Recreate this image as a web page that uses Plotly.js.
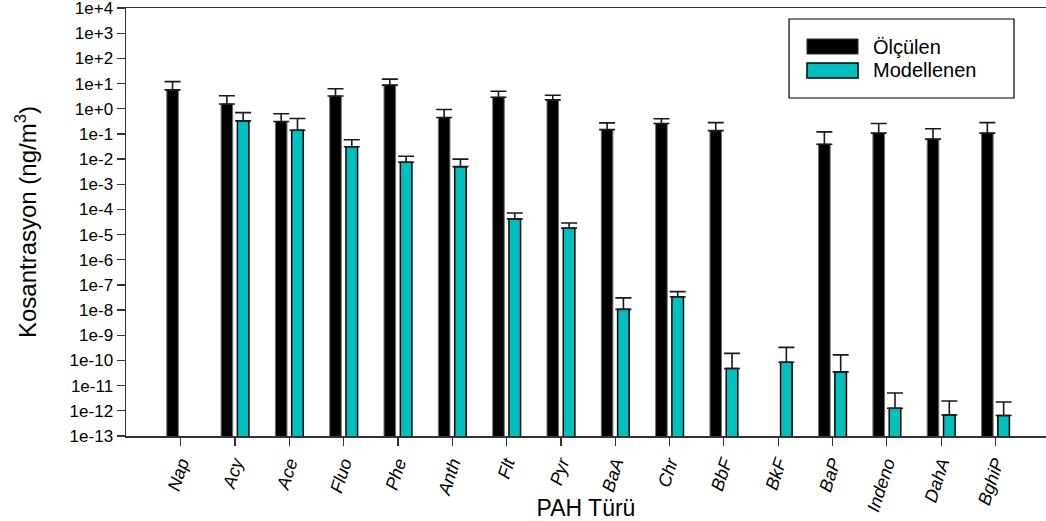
<!DOCTYPE html>
<html>
<head>
<meta charset="utf-8">
<script src="https://cdn.plot.ly/plotly-3.0.1.min.js"></script>
<style>
  html, body { margin: 0; padding: 0; background: #fff; }
  #chart { width: 1046px; height: 521px; }
</style>
</head>
<body>
<div id="chart"></div>
<script>
// ---- data ----
const categories = ["Nap", "Acy", "Ace", "Fluo", "Phe", "Anth", "Flt", "Pyr", "BaA", "Chr", "BbF", "BkF", "BaP", "Indeno", "DahA", "BghiP"];

const measuredName = "Ölçülen";
const measured = [5.6, 1.55, 0.31, 3.2, 8.7, 0.45, 2.88, 2.25, 0.148, 0.26, 0.135, null, 0.039, 0.107, 0.062, 0.107];
const measuredErr = [6.4, 1.75, 0.32, 3.0, 6.3, 0.48, 2.1, 1.2, 0.127, 0.14, 0.145, null, 0.081, 0.153, 0.098, 0.173];

const modeledName = "Modellenen";
const modeled = [null, 0.33, 0.14, 0.031, 0.0075, 0.005, 4.2e-5, 1.8e-5, 1.07e-8, 3.4e-8, 4.8e-11, 8.5e-11, 3.5e-11, 1.26e-12, 6.8e-13, 6.5e-13];
const modeledErr = [null, 0.37, 0.27, 0.028, 0.0055, 0.005, 3.0e-5, 1.1e-5, 2.0e-8, 2.0e-8, 1.42e-10, 2.45e-10, 1.31e-10, 3.84e-12, 1.77e-12, 1.59e-12];

const yTickExponents = [4, 3, 2, 1, 0, -1, -2, -3, -4, -5, -6, -7, -8, -9, -10, -11, -12, -13];
const yTickLabels = ["1e+4", "1e+3", "1e+2", "1e+1", "1e+0", "1e-1", "1e-2", "1e-3", "1e-4", "1e-5", "1e-6", "1e-7", "1e-8", "1e-9", "1e-10", "1e-11", "1e-12", "1e-13"];

const xTitle = "PAH Türü";
const yTitle = "Kosantrasyon (ng/m<sup>3</sup>)";
// --------------------------------------

const FONT = "Liberation Sans, Arial, Helvetica, sans-serif";
const BLACK = "#000000";
const CYAN = "#00BFBF";
const zeros = categories.map(() => 0);

const traces = [
  {
    type: "bar",
    name: measuredName,
    x: categories,
    y: measured,
    marker: { color: BLACK, line: { color: "#6e6e6e", width: 1 } },
    error_y: {
      type: "data", symmetric: false, array: measuredErr, arrayminus: zeros,
      color: "#1a1a1a", thickness: 1.6, width: 8
    },
    showlegend: false
  },
  {
    type: "bar",
    name: modeledName,
    x: categories,
    y: modeled,
    marker: { color: CYAN, line: { color: BLACK, width: 1.5 } },
    error_y: {
      type: "data", symmetric: false, array: modeledErr, arrayminus: zeros,
      color: "#1a1a1a", thickness: 1.6, width: 8
    },
    showlegend: false
  }
];

// legend box (paper coordinates), drawn as shapes + text
const legendShapes = [
  { type: "rect", xref: "paper", yref: "paper", x0: 0.7207, x1: 0.9652, y0: 0.7897, y1: 0.9743,
    line: { color: BLACK, width: 1.2 }, fillcolor: "#ffffff", layer: "above" },
  { type: "rect", xref: "paper", yref: "paper", x0: 0.7402, x1: 0.7957, y0: 0.8925, y1: 0.9276,
    line: { color: "#333333", width: 1 }, fillcolor: BLACK, layer: "above" },
  { type: "rect", xref: "paper", yref: "paper", x0: 0.7402, x1: 0.7957, y0: 0.8364, y1: 0.8715,
    line: { color: BLACK, width: 1.5 }, fillcolor: CYAN, layer: "above" }
];
const legendTexts = [
  { xref: "paper", yref: "paper", x: 0.8098, y: 0.9100, xanchor: "left", yanchor: "middle",
    text: measuredName, showarrow: false, font: { family: FONT, size: 20, color: BLACK } },
  { xref: "paper", yref: "paper", x: 0.8098, y: 0.8540, xanchor: "left", yanchor: "middle",
    text: modeledName, showarrow: false, font: { family: FONT, size: 20, color: BLACK } }
];

const layout = {
  width: 1046,
  height: 521,
  margin: { l: 126, r: 0, t: 8, b: 85, pad: 0 },
  paper_bgcolor: "#ffffff",
  plot_bgcolor: "#ffffff",
  font: { family: FONT, color: BLACK, size: 17 },
  barmode: "group",
  bargap: 0.40,
  bargroupgap: 0.29,
  showlegend: false,
  shapes: legendShapes,
  annotations: legendTexts,
  xaxis: {
    type: "category",
    range: [-1.007, 15.93],
    showline: true, linecolor: "#333333", linewidth: 1.5, mirror: true,
    ticks: "outside", ticklen: 8, tickwidth: 1.2, tickcolor: "#333333",
    tickangle: -72,
    tickfont: { family: FONT, size: 18, style: "italic", color: BLACK },
    showgrid: false, zeroline: false,
    automargin: false,
    title: { text: xTitle, font: { family: FONT, size: 23, color: BLACK }, standoff: 4 }
  },
  yaxis: {
    type: "log",
    range: [-13.003, 4.003],
    tickmode: "array",
    tickvals: yTickExponents.map(e => Math.pow(10, e)),
    ticktext: yTickLabels,
    ticklabeloverflow: "allow",
    showline: true, linecolor: "#333333", linewidth: 1.5,
    ticks: "outside", ticklen: 8, tickwidth: 1.2, tickcolor: "#333333",
    tickfont: { family: FONT, size: 17, color: BLACK },
    showgrid: false, zeroline: false,
    automargin: false,
    title: { text: yTitle, font: { family: FONT, size: 24, color: BLACK }, standoff: 26 }
  }
};

Plotly.newPlot("chart", traces, layout, { displayModeBar: false, staticPlot: true });
</script>
</body>
</html>
